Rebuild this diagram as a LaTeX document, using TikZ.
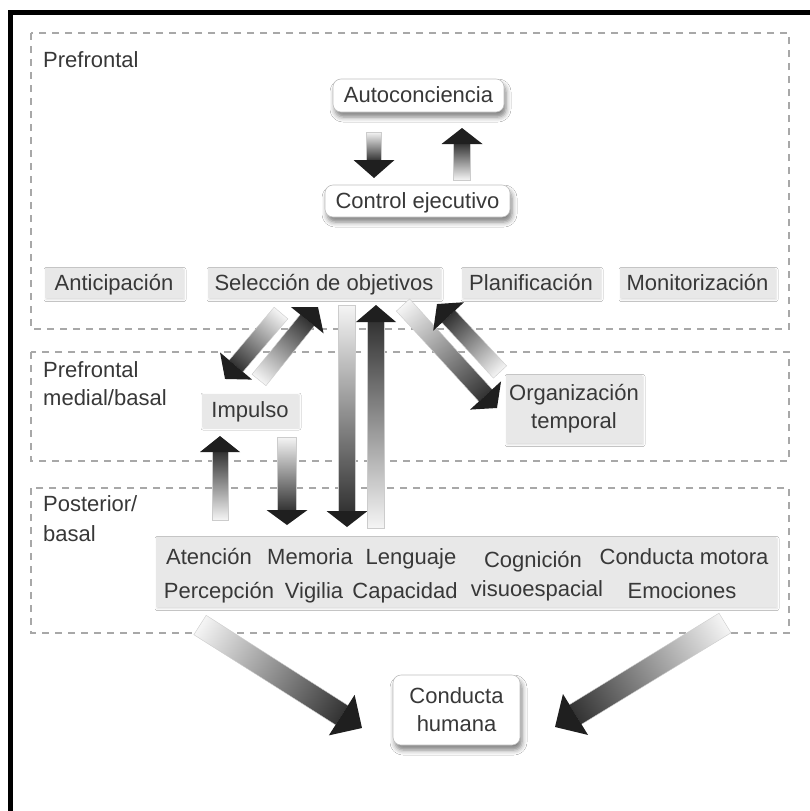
\documentclass[tikz,border=0pt]{standalone}
\usepackage{fontspec}
\setmainfont{Liberation Sans}
\usetikzlibrary{calc,shadows.blur}
\definecolor{txt}{gray}{0.22}
\definecolor{boxgray}{gray}{0.91}
\definecolor{dashgray}{gray}{0.66}
\tikzset{
  lbl/.style={font=\fontsize{22}{28}\selectfont, text=txt, inner sep=0pt},
  region/.style={draw=dashgray, line width=1.5pt, dash pattern=on 7pt off 6pt},
  grayfill/.style={fill=boxgray, blur shadow={shadow xshift=1pt, shadow yshift=-1.5pt, shadow blur radius=2pt, shadow opacity=15}},
  graybox/.style={lbl, grayfill, minimum height=30pt, text height=16pt, text depth=2pt},
  whitefill/.style={draw=black!25, line width=0.6pt, fill=white, rounded corners=8pt,
     blur shadow={shadow xshift=2pt, shadow yshift=-5pt, shadow blur radius=5pt, shadow opacity=50}},
  whitebox/.style={lbl, whitefill, text height=16pt, text depth=2pt},
  word/.style={lbl, anchor=base},
  shaftfill/.style={left color=black!4, right color=black!80, draw=black!20, line width=0.4pt},
  headfill/.style={fill=black!88},
}
\newcommand\blockarrow[5]{%
  \path let \p1=(#1), \p2=(#2),
     \n1={atan2((\y2)-(\y1),(\x2)-(\x1))},
     \n2={veclen((\x2)-(\x1),(\y2)-(\y1))} in
     \pgfextra{\xdef\BAang{\n1}\xdef\BAlen{\n2}\xdef\BAx{\x1}\xdef\BAy{\y1}};
  \begin{scope}[transform canvas={shift={(\BAx,\BAy)},rotate=\BAang}]
    \shade[shaftfill] (0pt,{-#3pt}) rectangle ({\BAlen-#5pt+0.5pt},{#3pt});
    \fill[headfill] ({\BAlen-#5pt},{-#4pt}) -- ({\BAlen},0pt) -- ({\BAlen-#5pt},{#4pt}) -- cycle;
  \end{scope}}
\begin{document}
\begin{tikzpicture}[x=1pt,y=-1pt]
\useasboundingbox (0,0) rectangle (810,811);
\fill[white] (0,0) rectangle (810,811);
% outer frame
\draw[line width=5pt] (10.5,811) -- (10.5,12.5) -- (810,12.5);
% regions
\draw[region] (31,33) rectangle (789,329);
\draw[region] (31,352) rectangle (789,461);
\draw[region] (31,488) rectangle (789,633);
% region labels
\node[lbl, anchor=base west] (lpf) at (43,67) {Prefrontal};
\node[lbl, anchor=base west] (lmb1) at (43,377) {Prefrontal};
\node[lbl, anchor=base west] (lmb2) at (43,405) {medial/basal};
\node[lbl, anchor=base west] (lpb1) at (43,511) {Posterior/};
\node[lbl, anchor=base west] (lpb2) at (43,541) {basal};
% top nodes
\node[whitebox, minimum width=171pt, minimum height=33pt] (auto) at (418.5,95.5) {Autoconciencia};
\node[whitebox, minimum width=185pt, minimum height=32pt] (ctrl) at (417.5,201) {Control ejecutivo};
% row of functions
\node[graybox, minimum width=138pt] (antic) at (114,283) {Anticipación};
\node[graybox, minimum width=232pt] (selec) at (324,283) {Selección de objetivos};
\node[graybox, minimum width=138pt] (plan) at (531,283) {Planificación};
\node[graybox, minimum width=155pt] (monit) at (697.5,283) {Monitorización};
% medial
\node[graybox, minimum width=96pt, minimum height=33pt] (imp) at (250,410) {Impulso};
\node[lbl, grayfill, align=center, minimum width=136pt, minimum height=68pt] (org) at (574,409) {Organización\\temporal};
% posterior
\node[grayfill, inner sep=0pt, minimum width=620pt, minimum height=70pt] (post) at (466,572) {};
\node[word] (w1) at (209,564) {Atención};
\node[word] (w2) at (310,564) {Memoria};
\node[word] (w3) at (411,564) {Lenguaje};
\node[word] (w4) at (533,567) {Cognición};
\node[word] (w5) at (684,564) {Conducta motora};
\node[word] (w6) at (219,598) {Percepción};
\node[word] (w7) at (314,598) {Vigilia};
\node[word] (w8) at (405,598) {Capacidad};
\node[word] (w9) at (537,596) {visuoespacial};
\node[word] (w10) at (682,598) {Emociones};
% result
\node[lbl, whitefill, align=center, minimum width=127pt, minimum height=70pt] (cond) at (456.5,710) {Conducta\\humana};
% arrow end points
\coordinate (d1s) at (374,132); \coordinate (d1e) at (374,178);
\coordinate (u1s) at (462,180); \coordinate (u1e) at (462,128);
\coordinate (a1s) at (281,313); \coordinate (a1e) at (225,379);
\coordinate (a2s) at (259,380); \coordinate (a2e) at (318,307);
\coordinate (lds) at (347,305); \coordinate (lde) at (347,527);
\coordinate (lus) at (376,528); \coordinate (lue) at (376,305);
\coordinate (ius) at (220,520); \coordinate (iue) at (220,436);
\coordinate (ids) at (287,437); \coordinate (ide) at (287,525);
\coordinate (b1s) at (403,305); \coordinate (b1e) at (497,408);
\coordinate (b2s) at (500,372); \coordinate (b2e) at (437,304);
\coordinate (cls) at (200,625); \coordinate (cle) at (362,728);
\coordinate (crs) at (725,623); \coordinate (cre) at (555,727);
% arrows
\blockarrow{d1s}{d1e}{7.5}{20.5}{18}
\blockarrow{u1s}{u1e}{8.5}{20.5}{16}
\blockarrow{a1s}{a1e}{9}{21}{17}
\blockarrow{a2s}{a2e}{9}{21}{17}
\blockarrow{lds}{lde}{8.5}{20.5}{16}
\blockarrow{lus}{lue}{8.5}{20}{17}
\blockarrow{ius}{iue}{8}{20}{16}
\blockarrow{ids}{ide}{9.5}{20.5}{15}
\blockarrow{b1s}{b1e}{9}{21}{17}
\blockarrow{b2s}{b2e}{9}{21}{17}
\blockarrow{cls}{cle}{11.5}{24}{24}
\blockarrow{crs}{cre}{11.5}{24}{24}
\end{tikzpicture}
\end{document}
